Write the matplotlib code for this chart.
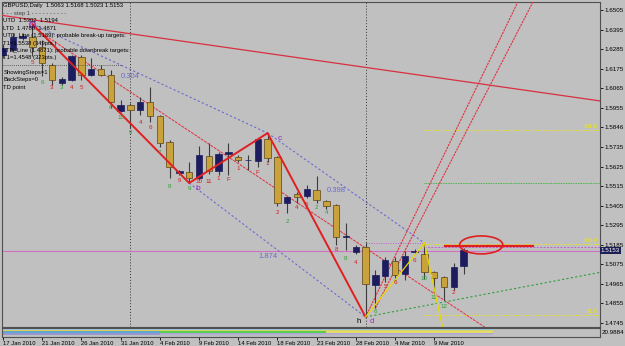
import matplotlib
matplotlib.use("Agg")
import matplotlib.pyplot as plt
import matplotlib.transforms as mtrans
from matplotlib.patches import Ellipse

plt.rcParams.update({
    "font.family": ["Liberation Sans", "DejaVu Sans"],
    "font.size": 4.5,
})

BG = "#c0c0c0"
GOLD = "#c9a23c"
NAVY = "#1c1c5e"
WICK = "#3c3c3c"
RED = "#e02020"
BLUE_DASH = "#6a6ad2"
YELLOW = "#f0e800"

# GBPUSD daily bars (Sun..Fri), 17 Jan 2010 .. 12 Mar 2010
OPEN = [1.6252, 1.6280, 1.6348, 1.6353, 1.6297, 1.6196, 1.6095, 1.6111, 1.6241, 1.6140,
        1.6173, 1.6140, 1.5937, 1.5971, 1.5943, 1.5988, 1.5909, 1.5763, 1.5588, 1.5594,
        1.5560, 1.5684, 1.5600, 1.5695, 1.5678, 1.5659, 1.5656, 1.5780, 1.5678, 1.5420,
        1.5470, 1.5459, 1.5493, 1.5431, 1.5409, 1.5229, 1.5144, 1.5172, 1.4958, 1.5009,
        1.5094, 1.5020, 1.5144, 1.5133, 1.5031, 1.5003, 1.4947, 1.5063]
HIGH = [1.6314, 1.6376, 1.6376, 1.6426, 1.6336, 1.6207, 1.6128, 1.6252, 1.6252, 1.6235,
        1.6196, 1.6168, 1.5999, 1.5982, 1.6016, 1.6072, 1.5915, 1.5774, 1.5605, 1.5650,
        1.5740, 1.5757, 1.5706, 1.5757, 1.5690, 1.5690, 1.5785, 1.5813, 1.5684, 1.5459,
        1.5481, 1.5521, 1.5571, 1.5437, 1.5414, 1.5307, 1.5183, 1.5195, 1.5043, 1.5116,
        1.5116, 1.5150, 1.5161, 1.5195, 1.5037, 1.5009, 1.5082, 1.5168]
LOW = [1.6235, 1.6269, 1.6336, 1.6246, 1.6134, 1.6083, 1.6083, 1.6106, 1.6111, 1.6134,
       1.6134, 1.5954, 1.5932, 1.5842, 1.5915, 1.5875, 1.5735, 1.5560, 1.5577, 1.5532,
       1.5549, 1.5583, 1.5577, 1.5577, 1.5650, 1.5605, 1.5622, 1.5650, 1.5403, 1.5364,
       1.5420, 1.5448, 1.5420, 1.5386, 1.5183, 1.5155, 1.5133, 1.4779, 1.4829, 1.4976,
       1.4987, 1.4987, 1.5133, 1.4993, 1.4914, 1.4874, 1.4931, 1.5023]
CLOSE = [1.6291, 1.6353, 1.6359, 1.6297, 1.6207, 1.6111, 1.6117, 1.6246, 1.6140, 1.6173,
         1.6140, 1.5988, 1.5971, 1.5943, 1.5988, 1.5909, 1.5757, 1.5622, 1.5600, 1.5560,
         1.5690, 1.5600, 1.5695, 1.5706, 1.5661, 1.5664, 1.5780, 1.5673, 1.5420, 1.5454,
         1.5454, 1.5498, 1.5437, 1.5403, 1.5229, 1.5236, 1.5172, 1.4964, 1.5015, 1.5099,
         1.5015, 1.5122, 1.5150, 1.5031, 1.4998, 1.4947, 1.5060, 1.5153]

DATE_TICKS = [0, 4, 8, 12, 16, 20, 24, 28, 32, 36, 40, 44]
DATE_LABELS = ["17 Jan 2010", "21 Jan 2010", "26 Jan 2010", "31 Jan 2010", "4 Feb 2010",
               "9 Feb 2010", "14 Feb 2010", "18 Feb 2010", "23 Feb 2010", "28 Feb 2010",
               "4 Mar 2010", "9 Mar 2010"]
PRICE_TICKS = [1.6505, 1.6395, 1.6285, 1.6175, 1.6065, 1.5955, 1.5846, 1.5735, 1.5625,
               1.5515, 1.5405, 1.5295, 1.5185, 1.5075, 1.4965, 1.4855, 1.4745]
MONTH_SEPARATORS = [13, 37]

# zigzag a-b-c-d
ZZ_BARS = [3, 19, 27, 37]
ZZ_PRICES = [1.6426, 1.5532, 1.5813, 1.4779]
ZZ_NAMES = ["b", "c", "d"]
# ratio lines (start bar, start price, end bar, end price, label, label bar, label price)
RATIO_LINES = [
    (3, 1.6426, 27, 1.5813, "0.304", 13.0, 1.6130),
    (27, 1.5813, 43, 1.5195, "0.398", 34.0, 1.5490),
    (19, 1.5532, 37, 1.4779, "1.874", 27.0, 1.5120),
]
# trend / target lines
LONG_RED = [(0, 1.6474), (60, 1.6001)]
CHANNEL_RED = [(3, 1.6410), (48, 1.4764)]
STEEP_RED_1 = [(37, 1.4779), (52, 1.6489)]
STEEP_RED_2 = [(38, 1.4829), (54, 1.6542)]
GREEN_RAY = [(37, 1.4779), (60, 1.5020)]
YELLOW_UP = [(37, 1.4779), (43, 1.5195)]
YELLOW_DOWN = [(43, 1.5195), (44.8, 1.4734)]
FIB_START = 43
FIB_LEVELS = [1.5830, 1.5190, 1.4790]
FIB_NAMES = ["161.8", "100.0", "61.8"]
GREEN_LEVEL = 1.5532
PINK_LEVEL = 1.5150
UPPER_MAGENTA = 1.5195
LOWER_MAGENTA = 1.5170
BID = 1.5153
TARGET_SEG = [(45.1, 1.5178), (54.1, 1.5178)]
TARGET_RING = (48.8, 1.5184, 4.4, 0.0101)

# step counters printed under the bars: (bar, price, text, colour)
STEP_LABELS = [
    (3, 1.6212, "5", "r"), (4, 1.6095, "6", "g"), (5, 1.6067, "3", "r"), (6, 1.6067, "3", "g"),
    (7, 1.6067, "4", "r"), (8, 1.6067, "5", "r"), (11, 1.5954, "6", "g"), (12, 1.5903, "10", "g"),
    (13, 1.5819, "9", "g"), (14, 1.5875, "4", "r"), (15, 1.5847, "6", "r"), (16, 1.5701, "7", "g"),
    (17, 1.5510, "8", "g"), (18, 1.5549, "9", "r"), (19, 1.5504, "9", "g"), (20, 1.5543, "10", "r"),
    (21, 1.5543, "11", "r"), (22, 1.5560, "1", "r"), (23, 1.5554, "F", "r"), (24, 1.5616, "1", "r"),
    (26, 1.5594, "F", "r"), (27, 1.5644, "1", "r"), (28, 1.5364, "2", "r"), (29, 1.5313, "2", "g"),
    (30, 1.5397, "4", "r"), (31, 1.5414, "5", "r"), (32, 1.5392, "2", "g"), (33, 1.5364, "4", "g"),
    (34, 1.5161, "8", "r"), (35, 1.5110, "8", "g"), (36, 1.5088, "4", "r"), (38, 1.4807, "6", "g"),
    (39, 1.4948, "5", "r"), (40, 1.4970, "6", "r"), (42, 1.5099, "6", "r"), (43, 1.4993, "10", "g"),
    (44, 1.4891, "11", "g"), (45, 1.4835, "12", "g"), (46, 1.4914, "2", "r"),
]

# info block; None marks a dotted separator row
INFO_LINES = [
    ("GBPUSD,Daily  1.5063 1.5168 1.5023 1.5153", "black"),
    ("- - - step 1 - - - - - - - - - -", "#404040"),
    ("UTD  1.5302  1.5194", "black"),
    ("LTD  1.4780  1.4871", "black"),
    ("UTD_Line (1.5189): probable break-up targets:", "black"),
    ("T1=1.5538 (349pts.)", "black"),
    ("LTD_Line (1.4871): probable downbreak targets:", "black"),
    ("T1=1.4548 (323pts.)", "black"),
    (None, "#404040"),
    ("ShowingSteps=1", "black"),
    ("BackSteps=0", "black"),
    ("TD point", "black"),
]

# colour rows of the lower indicator window: (level, start bar, end bar, colour)
IND_ROWS = [
    (8.4, 0, 50, "#9cc8ee"), (6.8, 0, 16, "#e0d040"), (6.8, 16, 50, "#d8d860"),
    (5.2, 0, 16, "#4aa0e0"), (5.2, 16, 33, "#40d040"), (5.2, 33, 50, "#e8e060"),
    (3.6, 0, 16, "#9090d0"), (3.6, 16, 50, "#b0a0d8"), (2.0, 16, 50, "#b8b8c8"),
]


def ray(ax, p1, p2, **kw):
    x1, y1 = p1
    x2, y2 = p2
    xe = ax.get_xlim()[1]
    ye = y1 + (y2 - y1) * (xe - x1) / (x2 - x1)
    ax.plot([x1, xe], [y1, ye], **kw)


fig = plt.figure(figsize=(6.25, 3.46), dpi=100, facecolor=BG)
ax = fig.add_axes([2 / 625, 1 - 327 / 346, 598 / 625, 325 / 346], facecolor=BG)
sub = fig.add_axes([2 / 625, 1 - 337 / 346, 598 / 625, 9 / 346], facecolor=BG)

ax.set_xlim(-0.1, 60.92)
ax.set_ylim(1.47225, 1.65500)

# month separators
for m in MONTH_SEPARATORS:
    ax.axvline(m, color="#303030", lw=0.7, ls=(0, (1, 2)), zorder=1)

# horizontal levels
ax.axhline(PINK_LEVEL, color="#d070c0", lw=0.8, zorder=2)
for lvl, name in zip(FIB_LEVELS, FIB_NAMES):
    ax.hlines(lvl, FIB_START, 60.92, color=YELLOW, lw=0.6, ls=(0, (1, 1)), zorder=2)
    ax.text(60.7, lvl + 0.0004, name, color=YELLOW, ha="right", va="bottom", fontsize=4)
ax.hlines(GREEN_LEVEL, FIB_START, 60.92, color="#20b020", lw=0.6, ls=(0, (1, 1)), zorder=2)
ax.hlines(UPPER_MAGENTA, ZZ_BARS[3], FIB_START, color="#c060d0", lw=0.7, ls=(0, (1, 1.5)),
          zorder=2)
ax.hlines(LOWER_MAGENTA, FIB_START, 60.92, color="#c060d0", lw=0.7, ls=(0, (2, 1.5)), zorder=2)

# trend lines
ax.axline(*LONG_RED, color="#d83040", lw=0.9, zorder=3)
ray(ax, *CHANNEL_RED, color="#e03040", lw=0.7, ls=(0, (3, 1)), zorder=3)
ray(ax, *STEEP_RED_1, color="#e03040", lw=0.8, ls=(0, (2, 0.8)), zorder=3)
ray(ax, *STEEP_RED_2, color="#e03040", lw=0.8, ls=(0, (2, 0.8)), zorder=3)
ray(ax, *GREEN_RAY, color="#30a040", lw=0.8, ls=(0, (2, 2)), zorder=3)
for x0, y0, x1, y1, lab, lx, ly in RATIO_LINES:
    ax.plot([x0, x1], [y0, y1], color=BLUE_DASH, lw=0.8, ls=(0, (2, 2)), zorder=3)
    ax.text(lx, ly, lab, color=BLUE_DASH, fontsize=5.5, ha="center", va="center")

# candles
for i, (o, h, l, c) in enumerate(zip(OPEN, HIGH, LOW, CLOSE)):
    ax.vlines(i, l, h, color=WICK, lw=0.8, zorder=4)
    up = c >= o
    body = max(abs(c - o), 0.0004)
    ax.bar(i, body, bottom=min(o, c), width=0.64, color=NAVY if up else GOLD,
           edgecolor=NAVY if up else "#5a4418", linewidth=0.5, zorder=5)

# zigzag + yellow projection lines
ax.plot(ZZ_BARS, ZZ_PRICES, color=RED, lw=1.4, zorder=6)
ax.plot(*zip(*YELLOW_UP), color="#e8d800", lw=0.9, zorder=6)
ray(ax, *YELLOW_DOWN, color="#e8d800", lw=0.9, zorder=6)
ax.plot(ZZ_BARS[0], ZZ_PRICES[0], "o", ms=4, mfc="none", mec="#9020c0", mew=0.9, zorder=7)
ax.text(ZZ_BARS[1] + 0.6, ZZ_PRICES[1] - 0.0010, ZZ_NAMES[0], color="#a020d0", fontsize=6,
        ha="left", va="top")
ax.text(ZZ_BARS[2] + 1.0, ZZ_PRICES[2] - 0.0010, ZZ_NAMES[1], color="#a020d0", fontsize=6,
        ha="left", va="top")
ax.text(ZZ_BARS[3] + 0.4, ZZ_PRICES[3] - 0.0005, ZZ_NAMES[2], color="#a020d0", fontsize=5.5,
        ha="left", va="top")
ax.text(ZZ_BARS[3] - 0.5, ZZ_PRICES[3] - 0.0005, "h", color="black", fontsize=5.5,
        ha="right", va="top")

# target marker
ax.plot(*zip(*TARGET_SEG), color=RED, lw=1.6, zorder=6)
ax.add_patch(Ellipse(TARGET_RING[:2], TARGET_RING[2], TARGET_RING[3], fill=False,
                     ec=RED, lw=1.2, zorder=7))

for b, p, t, col in STEP_LABELS:
    ax.text(b, p, t, color="#d02020" if col == "r" else "#30a030", fontsize=4.5,
            ha="center", va="center", zorder=8)

# info block
for k, (line, col) in enumerate(INFO_LINES):
    yk = 1 - (4 + 7.4 * k) / 325
    if line is None:
        ax.plot([0.002, 0.2], [yk, yk], transform=ax.transAxes, color=col, lw=0.6,
                ls=(0, (1, 1.5)), zorder=9)
        continue
    ax.text(0.002, yk, line, transform=ax.transAxes, color=col,
            fontsize=4.2, ha="left", va="center", zorder=9)

# right price scale
ax.yaxis.tick_right()
ax.set_yticks(PRICE_TICKS)
ax.set_yticklabels([f"{t:.4f}" for t in PRICE_TICKS])
ax.tick_params(axis="y", length=2, width=0.6, pad=1.5, labelsize=4.5, colors="black")
ax.set_xticks([])
for s in ax.spines.values():
    s.set_color("#505050")
    s.set_linewidth(0.8)
trans = mtrans.blended_transform_factory(ax.transAxes, ax.transData)
ax.text(1.0015, BID, f"{BID:.4f}", transform=trans, color="white", fontsize=4.5,
        ha="left", va="center", zorder=10,
        bbox=dict(boxstyle="square,pad=0.15", fc="#1e1e56", ec="none"))

# lower indicator window
sub.set_xlim(ax.get_xlim())
sub.set_ylim(0, 10)
for lvl, x0, x1, col in IND_ROWS:
    sub.hlines(lvl, x0, x1, color=col, lw=1.2)
sub.yaxis.tick_right()
sub.set_yticks([5])
sub.set_yticklabels(["20.9884"])
sub.tick_params(axis="y", length=0, pad=1.5, labelsize=4.5)
sub.set_xticks(DATE_TICKS)
sub.set_xticklabels(DATE_LABELS, ha="left")
sub.tick_params(axis="x", length=2, width=0.6, pad=1.0, labelsize=4.2)
for s in sub.spines.values():
    s.set_color("#505050")
    s.set_linewidth(0.8)

fig.savefig("out.png", dpi=100, facecolor=BG)
